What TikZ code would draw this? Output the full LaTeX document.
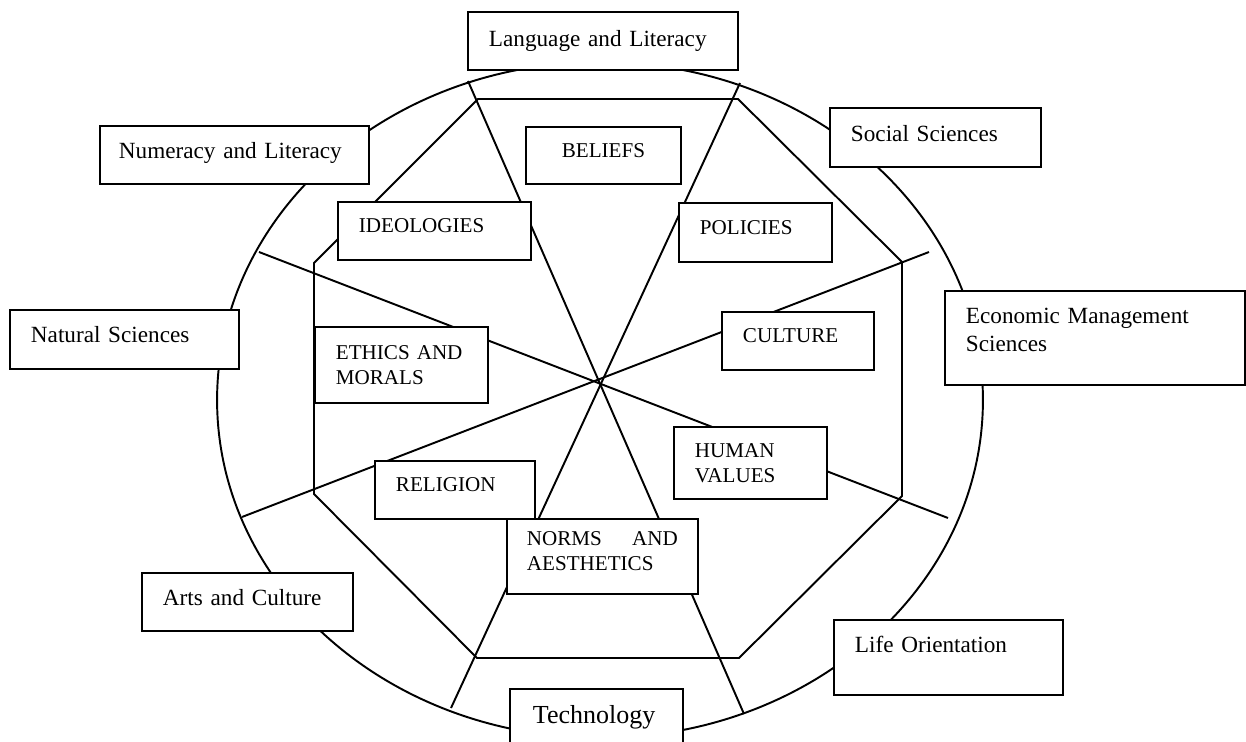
\documentclass[tikz,border=0pt]{standalone}
\usepackage{fontspec}
\setmainfont{Liberation Serif}
\usepackage{tikz}

\begin{document}
\begin{tikzpicture}[x=0.02cm,y=-0.02cm,line width=1.1pt]
  \tikzstyle{subjbox}=[draw,fill=white,anchor=north west,inner xsep=0.42cm,inner ysep=0pt,
                       align=left,font=\fontsize{13.2}{15.9}\selectfont]
  \tikzstyle{valbox}=[subjbox,font=\fontsize{12}{14.2}\selectfont]
  \tikzstyle{oneline}=[text height=0.30cm,text depth=0.22cm]

  \useasboundingbox (0,0) rectangle (1246,742);

  % the wheel
  \draw (600,400) ellipse [x radius=7.66cm, y radius=6.76cm];
  \draw (478,99) -- (738,99) -- (902,262) -- (902,496) -- (739,658)
        -- (477,658) -- (314,494) -- (314,263) -- cycle;

  \coordinate (A1) at (468,81);  \coordinate (A2) at (744,714);
  \coordinate (B1) at (740,83);  \coordinate (B2) at (451,708);
  \coordinate (C1) at (259,252); \coordinate (C2) at (948,518);
  \coordinate (D1) at (929,252); \coordinate (D2) at (242,517);

  \draw (A1) -- (A2);
  \draw (B1) -- (B2);
  \draw (C1) -- (C2);
  \draw (D1) -- (D2);

  % learning areas
  \node[subjbox,text width=4.56cm,minimum height=1.16cm] (LL)  at (467,11)  {Language and Literacy};
  \node[subjbox,text width=4.62cm,minimum height=1.16cm,inner xsep=0.38cm,
        text height=0.33cm,text depth=0.20cm]           (NL)  at (99,125)  {Numeracy and Literacy};
  \node[subjbox,text width=3.38cm,minimum height=1.18cm,
        text height=0.33cm,text depth=0.18cm]           (SS)  at (829,107) {Social Sciences};
  \node[subjbox,text width=5.16cm,minimum height=1.88cm,
        text height=0.33cm,text depth=0.89cm]           (EMS) at (944,290) {Economic Management\\Sciences};
  \node[subjbox,text width=3.74cm,minimum height=1.18cm,
        text height=0.33cm,text depth=0.20cm]           (NS)  at (9,309)   {Natural Sciences};
  \node[subjbox,text width=3.38cm,minimum height=1.16cm,
        text height=0.33cm,text depth=0.18cm]           (AC)  at (141,572) {Arts and Culture};
  \node[subjbox,text width=3.74cm,minimum height=1.50cm,
        text height=0.33cm,text depth=0.51cm]           (LO)  at (833,619) {Life Orientation};
  \node[subjbox,text width=2.54cm,minimum height=1.12cm,inner xsep=0.46cm,
        font=\fontsize{14.8}{17}\selectfont]            (T)   at (509,688) {Technology};

  % values
  \node[valbox,oneline,text width=2.26cm,minimum height=1.14cm,align=center] (BEL) at (525,126) {BELIEFS};
  \node[valbox,oneline,text width=3.02cm,minimum height=1.16cm] (IDE) at (337,201) {IDEOLOGIES};
  \node[valbox,oneline,text width=2.22cm,minimum height=1.18cm] (POL) at (678,202) {POLICIES};
  \node[valbox,oneline,text width=2.20cm,minimum height=1.16cm] (CUL) at (721,311) {CULTURE};
  \node[valbox,text width=2.62cm,minimum height=1.52cm] (ETH) at (314,326) {ETHICS AND\\MORALS};
  \node[valbox,text width=2.22cm,minimum height=1.44cm] (HV)  at (673,426) {HUMAN\\VALUES};
  \node[valbox,oneline,text width=2.36cm,minimum height=1.16cm] (REL) at (374,460) {RELIGION};
  \node[valbox,text width=3.02cm,minimum height=1.50cm,inner xsep=0.40cm,
        text height=0.28cm,text depth=0.72cm]           (NA)  at (506,518) {NORMS\hfill AND\\AESTHETICS};

\end{tikzpicture}
\end{document}
